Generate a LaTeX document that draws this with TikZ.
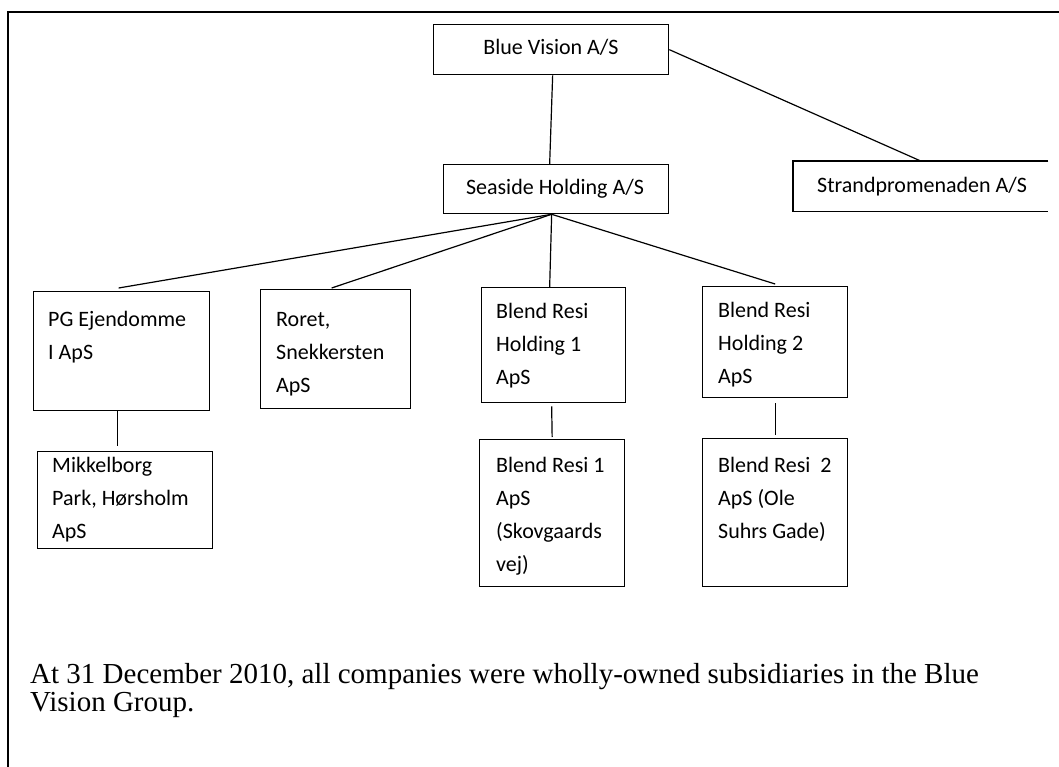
\documentclass[tikz,border=0pt]{standalone}
\usepackage{fontspec}
\setmainfont{Liberation Serif}
\newfontfamily\calib{Carlito}
\usetikzlibrary{calc}
\newcommand\topstrut{\rule{0pt}{20pt}}
\begin{document}
\begin{tikzpicture}[x=1pt,y=-1pt,
  box/.style={draw, line width=1.3pt, inner sep=0pt, anchor=north west},
  lbl/.style={font=\calib\fontsize{22}{33}\selectfont, align=left, inner sep=0pt, anchor=north west},
  onelbl/.style={font=\calib\fontsize{22}{33}\selectfont, inner sep=0pt},
  link/.style={line width=1.2pt},
  frame/.style={line width=2pt}]
\useasboundingbox (0,0) rectangle (1059,767);
\fill[white] (0,0) rectangle (1059,767);

% frame
\draw[frame] (8,767) -- (8,12) -- (1059,12);

% boxes
\node[box, minimum width=235pt, minimum height=50pt] (bv) at (433,24) {};
\node[onelbl, anchor=base] (bvt) at (551,55) {Blue Vision A/S};

\node[box, minimum width=225pt, minimum height=49pt] (sh) at (443,164) {};
\node[onelbl, anchor=base] (sht) at (555,195) {Seaside Holding A/S};

\node[inner sep=0pt, anchor=north west, minimum width=255pt, minimum height=50pt] (sp) at (793,161) {};
\draw[line width=1.3pt] (sp.north east) -- (sp.north west) -- (sp.south west) -- (sp.south east);
\node[onelbl, anchor=base west] (spt) at (817,193) {Strandpromenaden A/S};

\node[box, minimum width=176pt, minimum height=119pt] (pg) at (33,291) {};
\node[lbl] (pgt) at (48,306) {\topstrut PG Ejendomme\\I ApS};

\node[box, minimum width=150pt, minimum height=119pt] (ro) at (260,289) {};
\node[lbl] (rot) at (276,306) {\topstrut Roret,\\Snekkersten\\ApS};

\node[box, minimum width=144pt, minimum height=115pt] (bh1) at (481,287) {};
\node[lbl] (bh1t) at (496,298) {\topstrut Blend Resi\\Holding 1\\ApS};

\node[box, minimum width=145pt, minimum height=111pt] (bh2) at (702,286) {};
\node[lbl] (bh2t) at (718,297) {\topstrut Blend Resi\\Holding 2\\ApS};

\node[box, minimum width=175pt, minimum height=97pt] (mk) at (37,451) {};
\node[lbl] (mkt) at (52,452) {\topstrut Mikkelborg\\Park, Hørsholm\\ApS};

\node[box, minimum width=145pt, minimum height=147pt] (b1) at (479,439) {};
\node[lbl] (b1t) at (496,452) {\topstrut Blend Resi 1\\ApS\\(Skovgaards\\vej)};

\node[box, minimum width=145pt, minimum height=148pt] (b2) at (702,438) {};
\node[lbl] (b2t) at (718,452) {\topstrut Blend Resi\ \ 2\\ApS (Ole\\Suhrs Gade)};

% connectors
\draw[link] ([xshift=1.5pt]bv.south) -- ([xshift=-6.5pt]sh.north);
\draw[link] (bv.east) -- (sp.north);
\coordinate (hub) at ([xshift=-4.5pt]sh.south);
\draw[link] (hub) -- ([xshift=-3pt,yshift=3pt]pg.north);
\draw[link] (hub) -- ([xshift=-4pt,yshift=1pt]ro.north);
\draw[link] (hub) -- ([xshift=-4pt]bh1.north);
\draw[link] (hub) -- ([yshift=2pt]bh2.north);
\draw[link] ([xshift=-4pt]pg.south) -- ([xshift=-7.5pt,yshift=5pt]mk.north);
\draw[link] ([xshift=-2pt,yshift=-3pt]bh1.south) -- ([yshift=2pt]b1.north);
\draw[link] ([yshift=-5pt]bh2.south) -- ([yshift=3pt]b2.north);

% note
\node[inner sep=0pt, anchor=base west] (note) at (30,711)
  {\vbox{\fontsize{29}{28}\selectfont
   \hbox{At 31 December 2010, all companies were wholly-owned subsidiaries in the Blue}
   \hbox{Vision Group.}}};
\end{tikzpicture}
\end{document}
